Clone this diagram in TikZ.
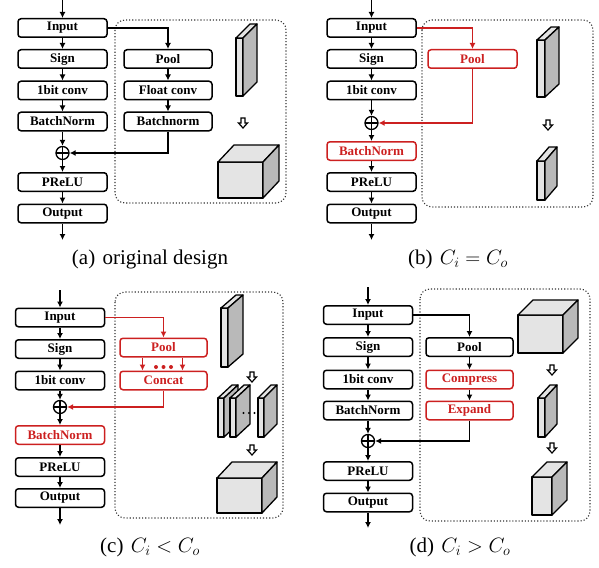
\documentclass[tikz,border=0pt]{standalone}
\usepackage{fontspec}
\setmainfont{Liberation Serif}
\usetikzlibrary{arrows.meta}
\definecolor{myred}{RGB}{204,32,32}
\definecolor{facel}{RGB}{228,228,228}
\definecolor{faced}{RGB}{185,185,185}
\tikzset{
  blk/.style={draw, line width=1.5pt, rounded corners=3pt, minimum width=89pt, minimum height=18.5pt, inner sep=0pt, font=\fontsize{13}{15}\selectfont\bfseries},
  rblk/.style={blk, draw=myred, text=myred},
  arr/.style={line width=1.4pt, -{Latex[length=6pt,width=6pt]}},
  rarr/.style={arr, myred},
  plusnode/.style={circle, draw, line width=1.3pt, minimum size=13pt, inner sep=0pt,
    path picture={\draw[line width=1.3pt] (path picture bounding box.north) -- (path picture bounding box.south)
      (path picture bounding box.west) -- (path picture bounding box.east);}},
  dotframe/.style={draw=black!80, dotted, line width=1.1pt, rounded corners=10pt},
  captxt/.style={font=\fontsize{21}{24}\selectfont},
  facestyle/.style={line width=1.3pt, line join=round}
}
\newcommand\slabbox[6]{%
  \filldraw[facestyle, fill=facel] (#1,#2) rectangle ++(#3,#4);
  \filldraw[facestyle, fill=facel] (#1,#2) -- ++(#5,-#6) -- ++(#3,0) -- ++(-#5,#6) -- cycle;
  \filldraw[facestyle, fill=faced] (#1+#3,#2) -- ++(#5,-#6) -- ++(0,#4) -- ++(-#5,#6) -- cycle;
}
\newcommand\harrow[2]{%
  \filldraw[fill=white, line width=1.2pt] (#1-2,#2-5) -- (#1+2,#2-5) -- (#1+2,#2) -- (#1+4.5,#2) -- (#1,#2+5) -- (#1-4.5,#2) -- (#1-2,#2) -- cycle;
}
\begin{document}
\begin{tikzpicture}[x=1pt,y=-1pt]
\useasboundingbox (0,0) rectangle (599,567);

% ---------------- (a) ----------------
\draw[dotframe] (115,20) rectangle (286,203);
\coordinate (a0) at (62.5,0);
\node[blk] (ain) at (62.5,28) {Input};
\node[blk] (asg) at (62.5,59) {Sign};
\node[blk] (acv) at (62.5,90.5) {1bit conv};
\node[blk] (abn) at (62.5,121.5) {BatchNorm};
\node[plusnode] (aplus) at (62.5,153) {};
\node[blk] (apr) at (62.5,182) {PReLU};
\node[blk] (aout) at (62.5,213.5) {Output};
\coordinate (aend) at (62.5,240);
\node[blk, minimum width=88pt] (apool) at (168,59) {Pool};
\node[blk, minimum width=88pt] (afc) at (168,90.5) {Float conv};
\node[blk, minimum width=88pt] (abn2) at (168,121.5) {Batchnorm};
\draw[arr] (a0) -- (ain);
\draw[arr] (ain) -- (asg);
\draw[arr] (asg) -- (acv);
\draw[arr] (acv) -- (abn);
\draw[arr] (abn) -- (aplus);
\draw[arr] (aplus) -- (apr);
\draw[arr] (apr) -- (aout);
\draw[arr] (aout) -- (aend);
\draw[arr] (ain.east) -| (apool.north);
\draw[arr] (apool) -- (afc);
\draw[arr] (afc) -- (abn2);
\draw[arr] (abn2.south) |- (aplus.east);
\slabbox{236}{38}{7}{58}{14}{14}
\harrow{243}{123}
\slabbox{218}{162}{45}{36}{16}{17}
\node[captxt] (capa) at (150,259) {(a)\hspace{0.35em}original design};

% ---------------- (b) ----------------
\draw[dotframe] (422,20) rectangle (593,207);
\coordinate (b0) at (371.5,0);
\node[blk] (bin) at (371.5,28) {Input};
\node[blk] (bsg) at (371.5,59) {Sign};
\node[blk] (bcv) at (371.5,90.5) {1bit conv};
\node[plusnode] (bplus) at (371.5,123) {};
\node[rblk] (bbn) at (371.5,151) {BatchNorm};
\node[blk] (bpr) at (371.5,182) {PReLU};
\node[blk] (bout) at (371.5,213.5) {Output};
\coordinate (bend) at (371.5,240);
\node[rblk] (bpool) at (472.5,59) {Pool};
\draw[arr] (b0) -- (bin);
\draw[arr] (bin) -- (bsg);
\draw[arr] (bsg) -- (bcv);
\draw[arr] (bcv) -- (bplus);
\draw[arr] (bplus) -- (bbn);
\draw[arr] (bbn) -- (bpr);
\draw[arr] (bpr) -- (bout);
\draw[arr] (bout) -- (bend);
\draw[rarr] (bin.east) -| (bpool.north);
\draw[rarr] (bpool.south) |- (bplus.east);
\slabbox{537}{40}{8}{57}{14}{13}
\harrow{548}{125}
\slabbox{537}{161}{8}{39}{12}{14}
\node[captxt] (capb) at (458,259) {(b)\hspace{0.35em}$C_i = C_o$};

% ---------------- (c) ----------------
\draw[dotframe] (115,292) rectangle (283,518);
\coordinate (c0) at (60,290);
\node[blk] (cin) at (60,317.5) {Input};
\node[blk] (csg) at (60,349) {Sign};
\node[blk] (ccv) at (60,380.5) {1bit conv};
\node[plusnode] (cplus) at (60,407) {};
\node[rblk] (cbn) at (60,435) {BatchNorm};
\node[blk] (cpr) at (60,467) {PReLU};
\node[blk] (cout) at (60,498) {Output};
\coordinate (cend) at (60,525);
\node[rblk, minimum width=87pt] (cpool) at (163.5,347.5) {Pool};
\node[rblk, minimum width=87pt] (ccat) at (163.5,380.5) {Concat};
\draw[arr] (c0) -- (cin);
\draw[arr] (cin) -- (csg);
\draw[arr] (csg) -- (ccv);
\draw[arr] (ccv) -- (cplus);
\draw[arr] (cplus) -- (cbn);
\draw[arr] (cbn) -- (cpr);
\draw[arr] (cpr) -- (cout);
\draw[arr] (cout) -- (cend);
\draw[rarr] (cin.east) -| (cpool.north);
\draw[rarr] ([xshift=-21pt]cpool.south) -- ([xshift=-21pt]ccat.north);
\draw[rarr] ([xshift=19pt]cpool.south) -- ([xshift=19pt]ccat.north);
\fill[myred] (156,367) circle (2) (163.5,367) circle (2) (171,367) circle (2);
\draw[rarr] (ccat.south) |- (cplus.east);
\slabbox{221}{308}{7}{59}{15}{13}
\harrow{252}{377}
\slabbox{218}{398}{6}{39}{14}{13}
\slabbox{230}{398}{6}{39}{14}{13}
\slabbox{258}{398}{6}{39}{13}{13}
\fill (243.5,413) circle (1.1) (249,413) circle (1.1) (254.5,413) circle (1.1);
\harrow{252}{450}
\slabbox{217}{478}{45}{35}{15}{16}
\node[captxt] (capc) at (150,547) {(c)\hspace{0.35em}$C_i < C_o$};

% ---------------- (d) ----------------
\draw[dotframe] (420,289) rectangle (590,521);
\coordinate (d0) at (368,287);
\node[blk] (din) at (368,315) {Input};
\node[blk] (dsg) at (368,347) {Sign};
\node[blk] (dcv) at (368,379.5) {1bit conv};
\node[blk] (dbn) at (368,410.5) {BatchNorm};
\node[plusnode] (dplus) at (368,441) {};
\node[blk] (dpr) at (368,471) {PReLU};
\node[blk] (dout) at (368,502.5) {Output};
\coordinate (dend) at (368,528);
\node[blk, minimum width=87pt] (dpool) at (469.5,347) {Pool};
\node[rblk, minimum width=87pt] (dcomp) at (469.5,379.5) {Compress};
\node[rblk, minimum width=87pt] (dexp) at (469.5,410.5) {Expand};
\draw[arr] (d0) -- (din);
\draw[arr] (din) -- (dsg);
\draw[arr] (dsg) -- (dcv);
\draw[arr] (dcv) -- (dbn);
\draw[arr] (dbn) -- (dplus);
\draw[arr] (dplus) -- (dpr);
\draw[arr] (dpr) -- (dout);
\draw[arr] (dout) -- (dend);
\draw[arr] (din.east) -| (dpool.north);
\draw[arr] (dpool) -- (dcomp);
\draw[arr] (dcomp) -- (dexp);
\draw[arr] (dexp.south) |- (dplus.east);
\slabbox{518}{315}{45}{38}{15}{15}
\harrow{552}{370}
\slabbox{538}{398}{7}{39}{12}{13}
\harrow{552}{448}
\slabbox{532}{477}{20}{38}{15}{15}
\node[captxt] (capd) at (460,547) {(d)\hspace{0.35em}$C_i > C_o$};
\end{tikzpicture}
\end{document}
